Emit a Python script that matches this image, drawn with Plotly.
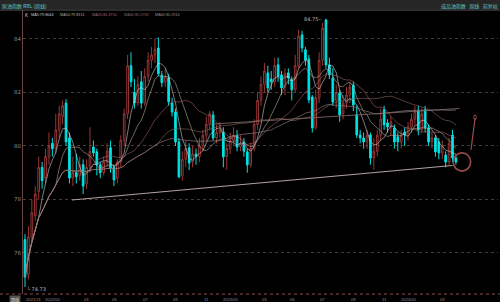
import pandas as pd
import numpy as np
import plotly.graph_objects as go

# ---------------- data ----------------
start_week = "2021-11-08"
opens = [76.50,75.20,76.60,77.40,78.30,79.20,78.80,79.60,80.10,79.90,80.60,81.10,81.60,80.30,78.80,79.00,78.90,79.30,78.60,79.20,
         79.96,79.78,79.30,79.00,79.40,79.93,79.20,78.80,79.40,80.20,81.20,83.00,82.00,81.60,82.40,81.60,82.60,83.20,83.40,83.66,
         82.65,82.40,82.55,81.60,81.27,80.15,78.90,79.50,79.93,79.40,79.70,79.60,80.00,80.40,80.80,81.16,80.30,80.50,80.52,79.60,
         79.90,80.20,80.40,79.96,80.15,79.78,79.30,79.90,80.80,81.70,82.30,82.73,82.50,82.40,83.03,82.65,82.20,82.73,82.47,82.10,
         83.00,84.15,83.59,83.25,81.83,80.70,81.80,83.20,84.71,83.03,82.54,81.70,81.98,81.20,81.60,81.90,82.28,81.16,80.41,80.30,
         80.15,80.41,79.55,79.80,80.40,81.35,80.86,80.70,80.67,80.34,80.15,80.52,80.40,80.70,81.00,81.31,80.60,81.35,80.67,80.15,
         80.30,80.15,79.74,79.66,79.40,80.41,79.55]
highs = [76.70,77.00,78.00,78.50,79.60,79.40,79.90,80.50,80.30,81.20,81.50,81.70,81.75,80.50,79.60,79.70,79.60,79.50,79.50,80.70,
         80.20,79.90,79.40,79.60,80.10,80.20,79.30,79.50,80.40,81.40,83.40,83.50,82.50,82.60,82.80,82.90,83.50,83.70,84.00,84.05,
         82.80,82.90,82.70,81.80,81.40,80.30,79.80,80.20,80.10,80.00,79.90,80.30,80.60,81.10,81.30,81.30,80.80,80.90,80.70,80.10,
         80.50,80.70,80.60,80.40,80.30,79.90,80.10,81.00,82.00,82.60,83.10,83.00,82.80,83.30,83.30,82.80,82.90,82.90,82.60,83.40,
         84.34,84.30,83.70,83.40,81.90,82.10,83.50,84.60,84.75,83.30,82.90,82.30,82.10,81.90,82.20,82.40,82.40,81.50,80.60,80.50,
         80.60,80.50,80.30,80.60,81.40,81.50,81.00,81.10,80.80,80.50,80.60,80.70,80.90,81.20,81.50,81.50,81.40,81.50,80.80,80.50,
         80.40,80.30,80.20,79.80,80.30,80.60,79.70]
lows = [74.73,75.00,76.40,77.20,78.00,78.40,78.60,79.30,79.60,79.70,80.30,80.80,80.00,78.60,78.50,78.60,78.70,78.20,78.40,79.00,
        79.60,78.90,78.80,78.90,79.20,79.00,78.50,78.60,79.20,80.00,81.00,82.20,81.40,81.50,81.40,81.50,82.40,82.90,83.10,82.60,
        82.20,82.20,81.50,81.10,80.00,78.80,78.70,79.20,79.10,79.20,79.30,79.40,79.80,80.20,80.60,80.20,80.10,80.30,79.20,79.10,
        79.70,80.00,79.80,79.80,79.60,79.00,79.20,79.80,80.60,81.50,82.00,82.00,82.10,82.20,82.40,81.90,81.90,82.30,81.70,82.00,
        82.90,83.50,83.00,81.60,80.50,80.60,81.60,83.00,82.90,82.50,81.50,81.40,80.90,81.00,81.40,81.60,81.30,80.30,80.10,79.90,
        79.90,79.30,79.10,79.60,80.20,80.60,80.50,80.40,79.90,79.80,79.90,80.00,80.20,80.50,80.80,80.40,80.50,80.50,80.00,79.90,
        79.60,79.50,79.50,79.20,79.30,79.40,79.30]
closes = [75.10,76.60,77.50,78.20,79.20,78.70,79.60,80.00,79.90,80.60,81.20,81.50,80.15,78.80,79.00,78.85,79.30,78.50,79.20,79.80,
          79.74,79.29,79.00,79.40,79.80,79.18,78.73,79.40,80.20,81.20,83.00,82.40,81.60,82.30,81.60,82.60,83.20,83.40,83.60,82.70,
          82.36,82.60,81.65,81.27,80.15,78.84,79.50,79.90,79.36,79.70,79.60,80.00,80.40,80.80,81.20,80.30,80.50,80.60,79.59,79.90,
          80.20,80.40,79.96,80.10,79.80,79.29,79.90,80.80,81.70,82.30,82.80,82.17,82.40,83.00,82.60,82.17,82.70,82.54,82.10,83.00,
          84.10,83.66,83.21,81.72,80.67,81.80,83.20,84.40,83.03,82.65,81.64,82.00,81.16,81.60,81.90,82.20,81.53,80.41,80.30,80.15,
          80.40,79.55,79.80,80.40,81.00,80.79,80.71,80.90,80.15,80.15,80.40,80.41,80.70,81.00,81.30,80.60,81.20,80.67,80.15,80.30,
          79.78,79.74,80.00,79.40,80.10,79.55,79.40]

tick_months = ["2021-11", "2022-01", "2022-03", "2022-05", "2022-07", "2022-09", "2022-11", "2023-01",
               "2023-03", "2023-05", "2023-07", "2023-09", "2023-11", "2024-01", "2024-03"]
tick_labels = ["2021/11", "2022/01", "03", "05", "07", "09", "11", "2023/01",
               "03", "05", "07", "09", "11", "2024/01", "03"]

ma_periods = [5, 10, 20, 40, 60]
ma_colors = ["#cfcfcf", "#b8a89a", "#a86070", "#8a6a60", "#9a8a8a"]
ma_header = ["MA5:79.8044", "MA10:79.8151", "MA20:80.3710", "MA40:80.5763", "MA60:80.2914"]

# hand-drawn trend lines (week index, price)
trend_low_idx = [13.7, 125.0]
trend_low_px = [77.98, 79.27]
trend_up_idx = [55.0, 127.0]
trend_up_px = [80.82, 81.40]

hi_label = "84.75"
lo_label = "74.73"

# ---------------- figure ----------------
n = len(closes)
dates = pd.date_range(start_week, periods=n, freq="W-MON")
idx = np.arange(n)
cl = pd.Series(closes)

fig = go.Figure()
fig.add_trace(go.Candlestick(
    x=idx, open=opens, high=highs, low=lows, close=closes,
    increasing=dict(line=dict(color="#9a3636", width=1), fillcolor="#000000"),
    decreasing=dict(line=dict(color="#00e0e0", width=1), fillcolor="#00e8e8"),
    whiskerwidth=0, showlegend=False, hoverinfo="skip"))

for p, c in zip(ma_periods, ma_colors):
    fig.add_trace(go.Scatter(x=idx, y=cl.rolling(p, min_periods=1).mean(), mode="lines",
                             line=dict(color=c, width=0.7), opacity=0.85, showlegend=False, hoverinfo="skip"))

fig.add_trace(go.Scatter(x=trend_low_idx, y=trend_low_px, mode="lines",
                         line=dict(color="#c8b4b4", width=0.9), showlegend=False, hoverinfo="skip"))
fig.add_trace(go.Scatter(x=trend_up_idx, y=trend_up_px, mode="lines",
                         line=dict(color="#8a7070", width=0.8), showlegend=False, hoverinfo="skip"))

y_top, y_bot = 85.08, 74.467
x_left, x_right = -0.585, 138.3

# annotation circle around last candles and arrow
last = n - 1
fig.add_shape(type="circle", xref="x", yref="y", x0=last - 0.8, x1=last + 4.3, y0=79.06, y1=79.74,
              line=dict(color="#9a4a4a", width=1.6))
fig.add_shape(type="line", xref="x", yref="y", x0=last + 4.4, y0=79.85, x1=last + 5.6, y1=81.05,
              line=dict(color="#9a4a4a", width=1.2))
fig.add_shape(type="circle", xref="x", yref="y", x0=last + 5.2, x1=last + 6.0, y0=80.99, y1=81.15,
              line=dict(color="#9a4a4a", width=1))

annotations = []
hi_i = int(np.argmax(highs))
lo_i = int(np.argmin(lows))
annotations.append(dict(x=hi_i - 0.5, y=highs[hi_i], xref="x", yref="y", text=hi_label + "‒",
                        showarrow=False, xanchor="right", yanchor="middle",
                        font=dict(size=5, color="#bbbbbb", family="DejaVu Sans")))
annotations.append(dict(x=lo_i, y=lows[lo_i], xref="x", yref="y", text="└ " + lo_label,
                        showarrow=False, xanchor="left", yanchor="middle", yshift=-2,
                        font=dict(size=5, color="#bbbbbb", family="DejaVu Sans")))
for m, lab in zip(tick_months, tick_labels):
    ti = int(np.searchsorted(dates.values, np.datetime64(pd.Timestamp(m + "-01"))))
    is_year = "/" in lab
    annotations.append(dict(x=ti + (0.3 if is_year and ti > 0 else -0.2), y=0, xref="x", yref="paper",
                            text=lab, showarrow=False,
                            xanchor="center" if is_year and ti > 0 else "left", yanchor="top",
                            yshift=-1, font=dict(size=4.2, color="#9a8a8a", family="Liberation Sans")))
annotations.append(dict(x=0.0, y=0, xref="paper", yref="paper", text="周线", showarrow=False,
                        xanchor="right", yanchor="top", xshift=-2, yshift=-1, bgcolor="#555555",
                        font=dict(size=4, color="#dddddd", family="Noto Sans CJK SC")))
annotations.append(dict(x=0, y=1, xref="paper", yref="paper", xshift=-23, yshift=10, text="原油指数 RBL (周线)",
                        showarrow=False, xanchor="left", yanchor="top",
                        font=dict(size=5, color="#60c8c8", family="Noto Sans CJK SC")))
annotations.append(dict(x=1, y=1, xref="paper", yref="paper", xshift=2, yshift=10, text="成品油指数   周线   前复权",
                        showarrow=False, xanchor="right", yanchor="top",
                        font=dict(size=5, color="#60c8c8", family="Noto Sans CJK SC")))
header_x = [0.0, 6, 35, 67, 99, 130]
annotations.append(dict(x=0, y=1, xref="paper", yref="paper", xshift=0, yshift=-1, text="K",
                        showarrow=False, xanchor="left", yanchor="top",
                        font=dict(size=4.5, color="#dddddd", family="Liberation Sans")))
for hx, txt, c in zip(header_x[1:], ma_header, ma_colors):
    annotations.append(dict(x=0, y=1, xref="paper", yref="paper", xshift=hx, yshift=-1, text=txt,
                            showarrow=False, xanchor="left", yanchor="top",
                            font=dict(size=3.8, color=c, family="Liberation Sans")))

fig.update_layout(
    width=500, height=302,
    margin=dict(l=23, r=2, t=10, b=8),
    paper_bgcolor="#000000", plot_bgcolor="#000000",
    annotations=annotations,
    shapes=list(fig.layout.shapes) + [
        dict(type="rect", xref="paper", yref="paper", x0=-23 / 475, x1=1 + 2 / 475, y0=1 + 1 / 284, y1=1 + 10 / 284,
             fillcolor="#262626", line=dict(width=0), layer="below"),
        dict(type="line", xref="paper", yref="paper", x0=-23 / 475, x1=1 + 2 / 475, y0=1, y1=1,
             line=dict(color="#5a5a5a", width=1)),
        dict(type="line", xref="paper", yref="paper", x0=-23 / 475, x1=1 + 2 / 475, y0=0, y1=0,
             line=dict(color="#8a4a4a", width=1, dash="dot")),
    ],
    xaxis=dict(range=[x_left, x_right], showgrid=False, zeroline=False, showticklabels=False,
               rangeslider=dict(visible=False), fixedrange=True),
    yaxis=dict(range=[y_bot, y_top], tickvals=[76, 78, 80, 82, 84], ticktext=["76", "78", "80", "82", "84"],
               showgrid=True, gridcolor="#4a3838", griddash="dot", gridwidth=1, zeroline=False,
               showline=True, linecolor="#6a4444", linewidth=1, ticks="",
               tickfont=dict(size=5.5, color="#8c8c8c", family="DejaVu Sans"), fixedrange=True),
)

fig.write_html("out.html")
